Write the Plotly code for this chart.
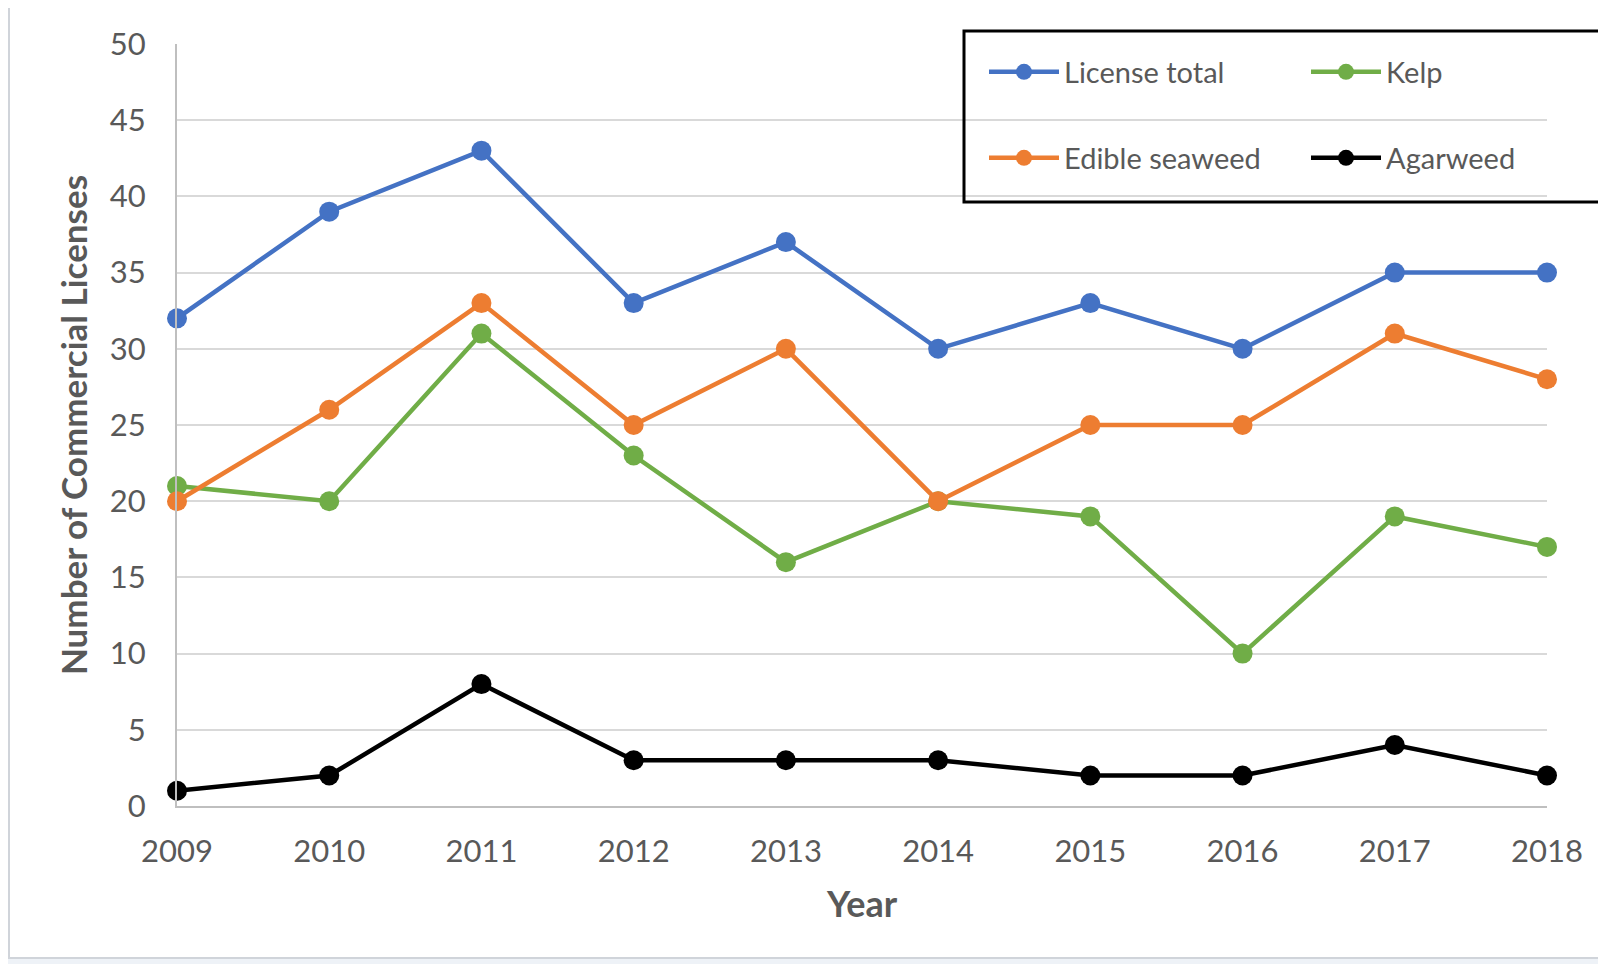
import plotly.graph_objects as go

years = [2009, 2010, 2011, 2012, 2013, 2014, 2015, 2016, 2017, 2018]
license_total = [32, 39, 43, 33, 37, 30, 33, 30, 35, 35]
kelp = [21, 20, 31, 23, 16, 20, 19, 10, 19, 17]
edible_seaweed = [20, 26, 33, 25, 30, 20, 25, 25, 31, 28]
agarweed = [1, 2, 8, 3, 3, 3, 2, 2, 4, 2]
y_ticks = [0, 5, 10, 15, 20, 25, 30, 35, 40, 45, 50]

FONT = "Lato"
GREY = "#595959"

series = [
    ("License total", license_total, "#4472C4", "legend"),
    ("Kelp", kelp, "#70AD47", "legend"),
    ("Edible seaweed", edible_seaweed, "#ED7D31", "legend2"),
    ("Agarweed", agarweed, "#000000", "legend2"),
]

fig = go.Figure()
for name, vals, color, leg in series:
    fig.add_trace(go.Scatter(
        x=years, y=vals, name=name, mode="lines+markers",
        line=dict(color=color, width=4.5),
        marker=dict(color=color, size=20),
        cliponaxis=False, legend=leg,
    ))

W, H = 1606, 964
L, R, T, B = 169, 67, 36, 166
pw, ph = W - L - R, H - T - B

def px_x(p):
    return (p - L) / pw

def px_y(p):
    return (H - B - p) / ph

legend_common = dict(
    orientation="h", xanchor="left", yanchor="middle",
    font=dict(family=FONT, size=29, color=GREY),
    bgcolor="rgba(0,0,0,0)", borderwidth=0,
    entrywidth=237, entrywidthmode="pixels",
    itemwidth=70,
)

fig.update_layout(
    width=W, height=H,
    margin=dict(l=L, r=R, t=T, b=B, autoexpand=False),
    paper_bgcolor="#EEF2F7",
    plot_bgcolor="white",
    font=dict(family=FONT, color=GREY),
    showlegend=True,
    legend=dict(x=px_x(976), y=px_y(64), **legend_common),
    legend2=dict(x=px_x(976), y=px_y(150), **legend_common),
    xaxis=dict(
        range=[2009, 2018], tickvals=years, ticktext=[str(y) for y in years],
        showgrid=False, zeroline=False,
        showline=True, linecolor="#BFBFBF", linewidth=2,
        tickfont=dict(family=FONT, size=31, color=GREY),
        ticks="", ticklabelstandoff=17,
        title=dict(text="<b>Year</b>", font=dict(family=FONT, size=36, color=GREY), standoff=24),
    ),
    yaxis=dict(
        range=[0, 50], tickvals=y_ticks,
        showgrid=True, gridcolor="#D9D9D9", gridwidth=2,
        zeroline=False,
        showline=True, linecolor="#BFBFBF", linewidth=2,
        tickfont=dict(family=FONT, size=31, color=GREY),
        ticks="", ticklabelstandoff=23,
        title=dict(text="<b>Number of Commercial Licenses</b>", font=dict(family=FONT, size=35, color=GREY), standoff=12),
    ),
    shapes=[
        dict(type="rect", xref="paper", yref="paper", layer="below",
             x0=px_x(1), x1=px_x(1630), y0=px_y(950), y1=px_y(-10),
             fillcolor="white", line=dict(color="#D0D4DA", width=2)),
        dict(type="rect", xref="paper", yref="paper", layer="above",
             x0=px_x(956), x1=px_x(1606), y0=px_y(194), y1=px_y(23),
             fillcolor="rgba(0,0,0,0)", line=dict(color="black", width=3)),
    ],
)

fig.write_html("out.html")
